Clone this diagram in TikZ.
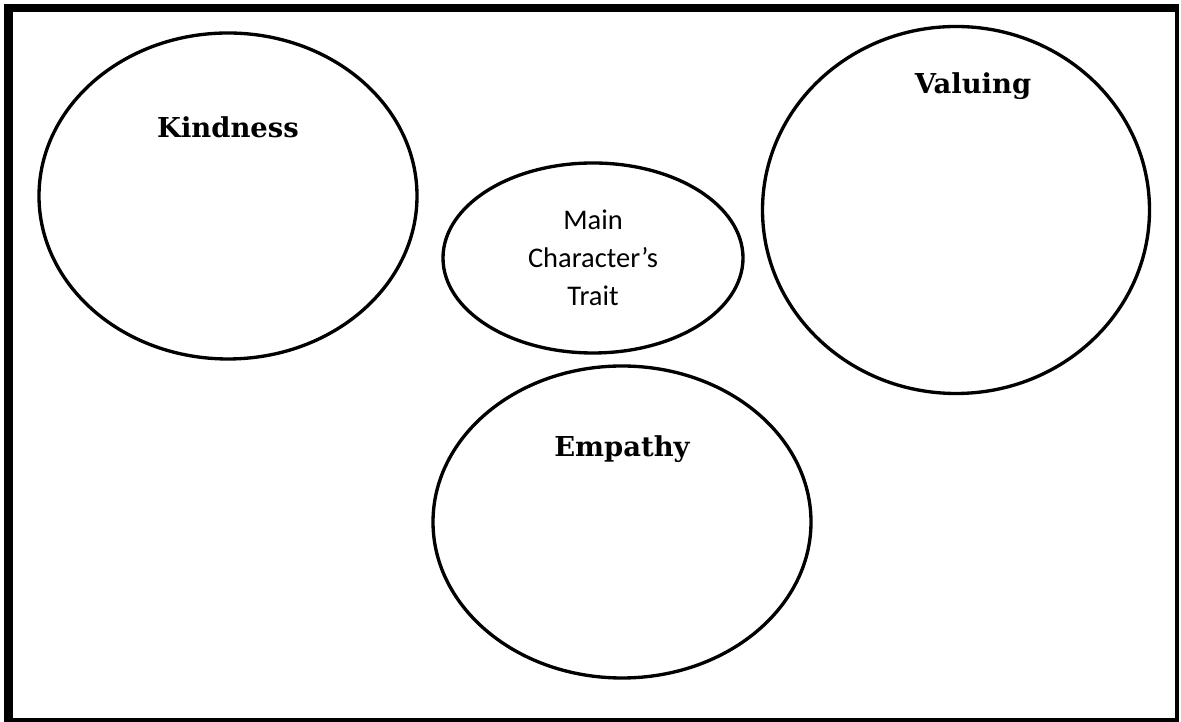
\documentclass[tikz,border=0pt]{standalone}
\usepackage{fontspec}
\newfontfamily\headfont{DejaVu Serif}
\newfontfamily\traitfont{Carlito}
\usetikzlibrary{shapes.geometric,positioning}

\begin{document}
\begin{tikzpicture}[
  bubble/.style={draw=black, ellipse, line width=1.9pt, inner sep=0pt},
  head/.style={anchor=base, font=\headfont\fontsize{15.6}{18}\selectfont\bfseries}
]
  \useasboundingbox (0,0) rectangle (23.62,14.44);

  %% Page frame (heavy left, top and bottom, light right)
  \draw[line width=0.17cm] (23.54,14.28) -| (0.17,0) -- (23.54,0);
  \draw[line width=0.07cm] (23.54,14.36) -- (23.54,0);

  %% Central trait
  \node[bubble, minimum width=6.0cm, minimum height=3.8cm, align=center,
        font=\traitfont\fontsize{16.2}{21.8}\selectfont] (trait) at (11.86,9.28)
        {Main\\Character’s\\Trait};

  %% Kindness (left)
  \node[bubble, minimum width=7.56cm, minimum height=6.52cm] (kind) at (4.56,10.52) {};
  \node[head] (kindlbl) at (4.56,11.68) {Kindness};

  %% Valuing (right)
  \node[bubble, minimum width=7.74cm, minimum height=7.34cm] (val) at (19.12,10.24) {};
  \node[head] (vallbl) at (19.46,12.56) {Valuing};

  %% Empathy (bottom)
  \node[bubble, minimum width=7.56cm, minimum height=6.24cm] (emp) at (12.44,4.00) {};
  \node[head] (emplbl) at (12.44,5.30) {Empathy};
\end{tikzpicture}
\end{document}
